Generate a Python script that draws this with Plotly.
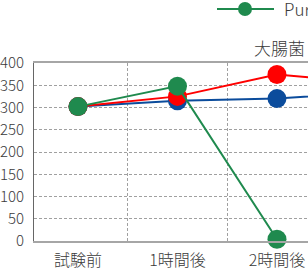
import plotly.graph_objects as go

categories = ["試験前", "1時間後", "2時間後", "3時間後"]
series_names = ["Purified water", "水道水", "Blue"]
green_vals = [302, 348, 4, None]
red_vals = [302, 325, 374, 355]
blue_vals = [302, 315, 320, 336]
y_ticks = [0, 50, 100, 150, 200, 250, 300, 350, 400]
title_text = "大腸菌"

GREEN = "#1f8a4e"
RED = "#ff0000"
BLUE = "#0b4c9c"
FONT = "Noto Sans CJK JP"
TXT = "#3a3a3a"

fig = go.Figure()
for name, vals, col in [(series_names[2], blue_vals, BLUE),
                        (series_names[1], red_vals, RED),
                        (series_names[0], green_vals, GREEN)]:
    fig.add_trace(go.Scatter(
        x=categories, y=vals, name=name, mode="lines+markers",
        line=dict(color=col, width=2),
        marker=dict(color=col, size=19),
        cliponaxis=False, showlegend=False,
    ))

# plot area in pixels: x 34..308, y 63..241
W, H = 308, 271
L, R, T, B = 34, 0, 63, 30
pw, ph = W - L - R, H - T - B

def px(x):
    return (x - L) / pw

def py(y):
    return (H - B - y) / ph

# legend (manual, for long symbol line)
fig.add_shape(type="line", xref="paper", yref="paper",
              x0=px(217), x1=px(274), y0=py(9), y1=py(9),
              line=dict(color=GREEN, width=2))
fig.add_shape(type="circle", xref="paper", yref="paper",
              xsizemode="pixel", ysizemode="pixel",
              xanchor=px(245), yanchor=py(9),
              x0=-7, x1=7, y0=-7, y1=7,
              fillcolor=GREEN, line=dict(color=GREEN, width=0))
fig.add_annotation(text=series_names[0], xref="paper", yref="paper",
                   x=px(282), y=py(9), xanchor="left", yanchor="middle",
                   showarrow=False,
                   font=dict(family=FONT, size=17, color=TXT, weight=300))
fig.add_annotation(text=title_text, xref="paper", yref="paper",
                   x=px(252), y=py(48), xanchor="left", yanchor="middle",
                   showarrow=False,
                   font=dict(family=FONT, size=17, color=TXT, weight=300))

fig.update_layout(
    width=W, height=H,
    margin=dict(l=L, r=R, t=T, b=B, pad=0, autoexpand=False),
    paper_bgcolor="white", plot_bgcolor="white",
    showlegend=False,
    font=dict(family=FONT, color=TXT, weight=300),
)
fig.update_xaxes(
    type="category", categoryorder="array", categoryarray=categories,
    range=[-0.442, 2.312], tickson="boundaries", ticks="",
    showgrid=True, gridcolor="#a0a0a0", griddash="3px,2px", gridwidth=1,
    showline=True, linecolor="#a6a6a6", linewidth=2, mirror=True,
    tickfont=dict(size=16, color=TXT, weight=300), ticklabelstandoff=4,
    zeroline=False, automargin=False,
)
fig.update_yaxes(
    range=[0, 400], tickvals=y_ticks, ticks="",
    showgrid=True, gridcolor="#a0a0a0", griddash="3px,2px", gridwidth=1,
    showline=True, linecolor="#666", linewidth=1,
    tickfont=dict(size=15, color=TXT, weight=300), ticklabelstandoff=6,
    zeroline=False, automargin=False,
)

fig.write_html("out.html")
